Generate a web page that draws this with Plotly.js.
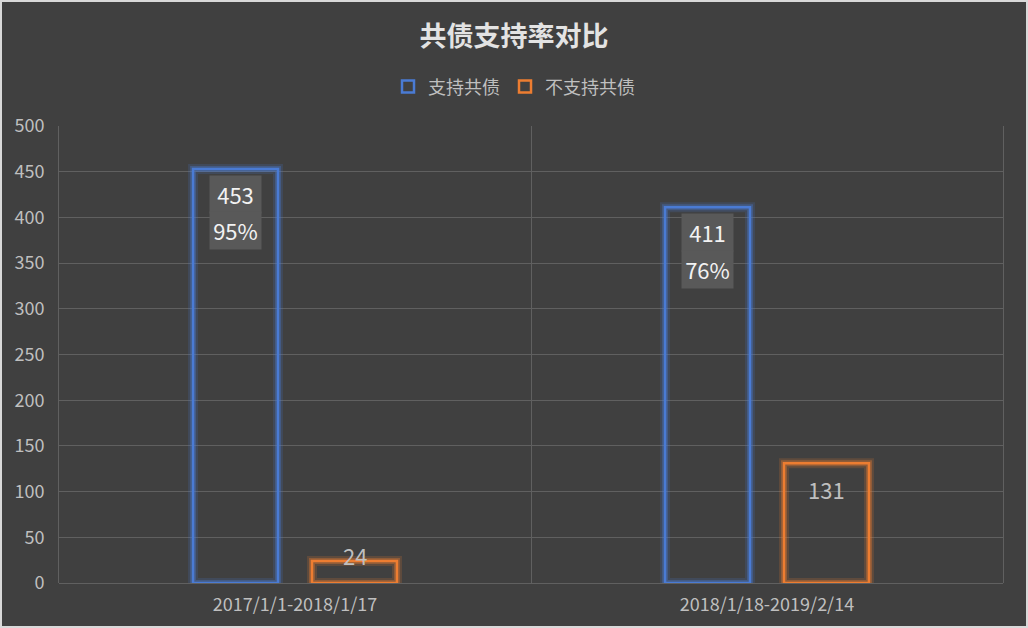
<!DOCTYPE html>
<html>
<head>
<meta charset="utf-8">
<script src="https://cdn.plot.ly/plotly-3.0.1.min.js"></script>
<style>
  html, body { margin: 0; padding: 0; background: #d9d9d9; }
  #chart { position: absolute; left: 2px; top: 2px; width: 1024px; height: 624px; }
</style>
</head>
<body>
<div id="chart"></div>
<script>
// data
const categories = ['2017/1/1-2018/1/17', '2018/1/18-2019/2/14'];
const supportCounts = [453, 411];
const againstCounts = [24, 131];
const supportRates = ['95%', '76%'];
const seriesNames = ['支持共债', '不支持共债'];

const BLUE = '#4a7bd4';
const ORANGE = '#ed7d31';
const GRID = '#606060';
const FONT = '"Noto Sans CJK SC", "Noto Sans", sans-serif';

const barBase = (y, group, color, width, name, legend) => ({
  type: 'bar',
  x: categories,
  y: y,
  name: name,
  offsetgroup: group,
  showlegend: legend,
  hoverinfo: legend ? 'x+y+name' : 'skip',
  marker: { color: 'rgba(0,0,0,0)', line: { color: color, width: width } },
});

// soft glow behind the outlines, then the outlines themselves
const traces = [
  barBase(supportCounts, 'a', 'rgba(74,123,212,0.18)', 10, seriesNames[0], false),
  barBase(againstCounts, 'b', 'rgba(237,125,49,0.18)', 10, seriesNames[1], false),
  barBase(supportCounts, 'a', 'rgba(74,123,212,0.35)', 6, seriesNames[0], false),
  barBase(againstCounts, 'b', 'rgba(237,125,49,0.35)', 6, seriesNames[1], false),
  barBase(supportCounts, 'a', BLUE, 2.5, seriesNames[0], true),
  barBase(againstCounts, 'b', ORANGE, 2.5, seriesNames[1], true),
];

// labels: blue ones in a grey box (two stacked cells), orange ones plain
const annotations = [];
categories.forEach((cat, i) => {
  [String(supportCounts[i]), supportRates[i]].forEach((txt, k) => {
    annotations.push({
      x: cat, y: supportCounts[i],
      xref: 'x', yref: 'y',
      xshift: -59.5, yshift: -6 - k * 36.5,
      yanchor: 'top',
      width: 51, height: 36.5,
      borderpad: 0,
      text: txt,
      showarrow: false,
      bgcolor: '#595959',
      font: { family: FONT, size: 22, color: '#f2f2f2' },
    });
  });
  const small = againstCounts[i] < 60;
  annotations.push({
    x: cat, y: againstCounts[i],
    xref: 'x', yref: 'y',
    xshift: 59.5, yshift: small ? 6 : -26,
    yanchor: 'middle',
    text: String(againstCounts[i]),
    showarrow: false,
    font: { family: FONT, size: 22, color: '#bfbfbf' },
  });
});

const layout = {
  paper_bgcolor: '#404040',
  plot_bgcolor: '#404040',
  font: { family: FONT, color: '#bfbfbf' },
  margin: { l: 57, r: 23, t: 124, b: 43 },
  title: {
    text: '<b>共债支持率对比</b>',
    font: { family: FONT, size: 27, color: '#e3e3e3' },
    x: 0.5, xanchor: 'center',
    y: 0.944, yanchor: 'middle', yref: 'container',
  },
  legend: {
    orientation: 'h',
    x: 0.482, xanchor: 'center',
    y: 0.864, yanchor: 'middle', yref: 'container',
    font: { family: FONT, size: 18, color: '#bfbfbf' },
    itemwidth: 30,
  },
  barmode: 'group',
  bargap: 0.496,
  bargroupgap: 0.286,
  xaxis: {
    type: 'category',
    showgrid: true,
    tickson: 'boundaries',
    gridcolor: GRID,
    gridwidth: 1,
    showline: false,
    ticks: '',
    tickfont: { family: FONT, size: 18, color: '#bfbfbf' },
    ticklabelstandoff: 9,
    fixedrange: true,
  },
  yaxis: {
    range: [0, 500],
    dtick: 50,
    gridcolor: GRID,
    gridwidth: 1,
    showline: true,
    mirror: true,
    linecolor: GRID,
    linewidth: 1,
    zeroline: true,
    zerolinecolor: GRID,
    zerolinewidth: 1,
    ticks: '',
    tickfont: { family: FONT, size: 18, color: '#bfbfbf' },
    ticklabelstandoff: 10,
    fixedrange: true,
  },
  annotations: annotations,
  showlegend: true,
};

Plotly.newPlot('chart', traces, layout, { displayModeBar: false, staticPlot: true });
</script>
</body>
</html>
